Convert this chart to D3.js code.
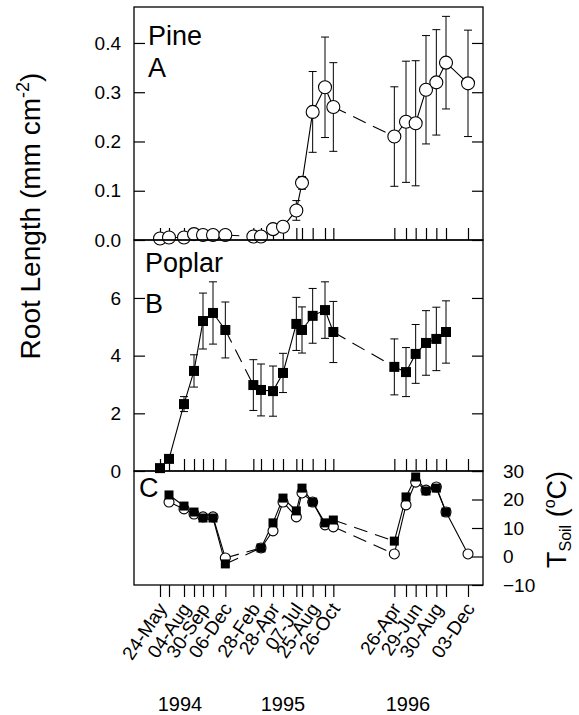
<!DOCTYPE html>
<html lang="en">
<head>
  <meta charset="UTF-8">
  <title>Root length and soil temperature</title>
  <script src="https://d3js.org/d3.v7.min.js"></script>
  <style>
    body { margin: 0; background: #fff; }
    svg { font-family: "Liberation Sans", Arial, sans-serif; }
  </style>
</head>
<body>
<svg id="chart" width="579" height="715"></svg>
<script>
// sampling dates (every tick on the x axis)
const sampleDates = [
  "1994-05-24", "1994-06-20", "1994-08-04", "1994-09-03", "1994-09-30", "1994-10-30", "1994-12-06",
  "1995-02-28", "1995-03-23", "1995-04-28", "1995-05-28", "1995-07-07", "1995-07-24", "1995-08-25",
  "1995-10-01", "1995-10-26",
  "1996-04-26", "1996-05-31", "1996-06-29", "1996-07-30", "1996-08-30", "1996-09-28", "1996-12-03"
];

// panel A: pine root length (mm cm-2) and standard errors
const pineRoot = [0.003, 0.005, 0.005, 0.012, 0.010, 0.010, 0.010,
  0.007, 0.007, 0.022, 0.027, 0.060, 0.116, 0.260, 0.310, 0.270,
  0.210, 0.240, 0.237, 0.305, 0.320, 0.360, 0.318];
const pineErr = [0.003, 0.003, 0.003, 0.004, 0.004, 0.004, 0.004,
  0.003, 0.003, 0.005, 0.005, 0.020, 0.013, 0.082, 0.102, 0.090,
  0.101, 0.123, 0.127, 0.110, 0.107, 0.094, 0.108];

// panel B: poplar root length
const poplarRoot = [0.10, 0.42, 2.32, 3.47, 5.20, 5.48, 4.89,
  2.98, 2.81, 2.77, 3.40, 5.10, 4.89, 5.38, 5.58, 4.82,
  3.61, 3.43, 4.06, 4.44, 4.58, 4.82, null];
const poplarErr = [0.05, 0.10, 0.26, 0.56, 0.97, 1.08, 0.97,
  0.88, 0.90, 0.87, 0.68, 0.92, 0.80, 0.95, 0.98, 1.06,
  0.97, 0.85, 1.02, 1.12, 1.10, 1.08, null];

// panel C: soil temperature (°C), squares = poplar, circles = pine
const soilSquare = [null, 21.6, 17.7, 15.6, 13.5, 13.5, -2.6,
  null, 3.0, 11.8, 20.5, 16.0, 24.0, 19.1, 11.8, 12.8,
  5.4, 20.9, 27.9, 23.0, 24.0, 15.6, null];
const soilCircle = [null, 19.1, 16.7, 14.9, 13.9, 13.9, -0.5,
  null, 3.0, 9.0, 19.1, 13.9, 22.3, 19.1, 11.1, 10.4,
  0.9, 18.1, 26.1, 23.3, 24.4, 15.6, 0.9];

const dateLabels = [
  ["1994-05-24", "24-May"], ["1994-08-04", "04-Aug"], ["1994-09-30", "30-Sep"], ["1994-12-06", "06-Dec"],
  ["1995-02-28", "28-Feb"], ["1995-04-28", "28-Apr"], ["1995-07-07", "07-Jul"], ["1995-08-25", "25-Aug"],
  ["1995-10-26", "26-Oct"], ["1996-04-26", "26-Apr"], ["1996-06-29", "29-Jun"], ["1996-08-30", "30-Aug"],
  ["1996-12-03", "03-Dec"]
];
const yearLabels = [["1994-07-23", "1994"], ["1995-05-28", "1995"], ["1996-06-06", "1996"]];

const pineTicks = [0, 0.1, 0.2, 0.3, 0.4];
const poplarTicks = [0, 2, 4, 6];
const soilTicks = [-10, 0, 10, 20, 30];

const parse = d3.timeParse("%Y-%m-%d");
const dates = sampleDates.map(parse);

const left = 134, right = 483;
const panels = {
  A: { top: 7, bottom: 240 },
  B: { top: 240, bottom: 471 },
  C: { top: 471, bottom: 585 }
};

const svg = d3.select("#chart");

const x = d3.scaleTime()
  .domain([parse("1994-05-24"), parse("1996-12-03")])
  .range([160, 468]);

const yA = d3.scaleLinear().domain([0, 0.473]).range([panels.A.bottom, panels.A.top]);
const yB = d3.scaleLinear().domain([0, 8.01]).range([panels.B.bottom, panels.B.top]);
const yC = d3.scaleLinear().domain([-10, 30]).range([panels.C.bottom, panels.C.top]);

function rows(values, errs) {
  return dates.map((d, i) => ({
    date: d, year: d.getFullYear(), v: values[i], e: errs ? errs[i] : null
  })).filter(r => r.v != null);
}

// solid inside one season, dashed across the winter gaps
function drawSeries(g, data, y, dash) {
  const line = d3.line().x(d => x(d.date)).y(d => y(d.v));
  const groups = d3.groups(data, d => d.year).map(g => g[1]);
  groups.forEach((grp, i) => {
    g.append("path").datum(grp)
      .attr("d", line).attr("fill", "none")
      .attr("stroke", "#000").attr("stroke-width", 1.1);
    if (i < groups.length - 1) {
      g.append("path").datum([grp[grp.length - 1], groups[i + 1][0]])
        .attr("d", line).attr("fill", "none")
        .attr("stroke", "#000").attr("stroke-width", 1.1)
        .attr("stroke-dasharray", dash);
    }
  });
}

function drawErrors(g, data, y) {
  const eb = g.append("g").attr("stroke", "#000").attr("stroke-width", 1);
  data.forEach(d => {
    const cx = x(d.date), y0 = y(d.v - d.e), y1 = y(d.v + d.e);
    eb.append("line").attr("x1", cx).attr("x2", cx).attr("y1", y0).attr("y2", y1);
    eb.append("line").attr("x1", cx - 4).attr("x2", cx + 4).attr("y1", y0).attr("y2", y0);
    eb.append("line").attr("x1", cx - 4).attr("x2", cx + 4).attr("y1", y1).attr("y2", y1);
  });
}

function drawCircles(g, data, y, r) {
  g.selectAll(null).data(data).enter().append("circle")
    .attr("cx", d => x(d.date)).attr("cy", d => y(d.v)).attr("r", r)
    .attr("fill", "#fff").attr("stroke", "#000").attr("stroke-width", 1.1);
}

function drawSquares(g, data, y, s) {
  g.selectAll(null).data(data).enter().append("rect")
    .attr("x", d => x(d.date) - s / 2).attr("y", d => y(d.v) - s / 2)
    .attr("width", s).attr("height", s).attr("fill", "#000");
}

function styleAxis(sel) {
  sel.select(".domain").remove();
  sel.selectAll("line").attr("stroke", "#000").attr("stroke-width", 1.2);
  sel.selectAll("text").attr("fill", "#000").attr("font-family", null);
}

// y axes (ticks inside on both sides)
function yAxes(y, ticks, fmt) {
  svg.append("g").attr("transform", `translate(${left},0)`)
    .call(d3.axisLeft(y).tickValues(ticks).tickSize(-11).tickPadding(13).tickFormat(fmt))
    .call(styleAxis)
    .attr("font-size", 19);
  svg.append("g").attr("transform", `translate(${right},0)`)
    .call(d3.axisRight(y).tickValues(ticks).tickSize(-11).tickFormat(""))
    .call(styleAxis);
}
yAxes(yA, pineTicks, d3.format(".1f"));
yAxes(yB, poplarTicks, d3.format("d"));

// soil temperature axis on the right
svg.append("g").attr("transform", `translate(${right},0)`)
  .call(d3.axisRight(yC).tickValues(soilTicks).tickSize(-11).tickPadding(20).tickFormat(d3.format("d")))
  .call(styleAxis)
  .attr("font-size", 19);

// date ticks at the bottom of every panel
["A", "B"].forEach(k => {
  svg.append("g").attr("transform", `translate(0,${panels[k].bottom})`)
    .call(d3.axisBottom(x).tickValues(dates).tickSize(-12).tickFormat(""))
    .call(styleAxis);
});
svg.append("g").attr("transform", `translate(0,${panels.C.bottom})`)
  .call(d3.axisBottom(x).tickValues(dates).tickSize(12).tickFormat(""))
  .call(styleAxis);

// rotated date labels
svg.append("g").selectAll("text").data(dateLabels).enter().append("text")
  .attr("transform", d => `translate(${x(parse(d[0])) + 2},605) rotate(-56)`)
  .attr("text-anchor", "end").attr("dy", "0.35em")
  .attr("font-size", 19)
  .text(d => d[1]);

svg.append("g").selectAll("text").data(yearLabels).enter().append("text")
  .attr("x", d => x(parse(d[0]))).attr("y", 711)
  .attr("text-anchor", "middle").attr("font-size", 20)
  .text(d => d[1]);

// panel A: pine
const gA = svg.append("g");
const pineRows = rows(pineRoot, pineErr);
drawErrors(gA, pineRows, yA);
drawSeries(gA, pineRows, yA, "14,8");
drawCircles(gA, pineRows, yA, 6.5);

// panel B: poplar
const gB = svg.append("g");
const poplarRows = rows(poplarRoot, poplarErr);
drawErrors(gB, poplarRows, yB);
drawSeries(gB, poplarRows, yB, "14,8");
drawSquares(gB, poplarRows, yB, 10);

// panel C: soil temperature
const gC = svg.append("g");
const circleRows = rows(soilCircle);
const squareRows = rows(soilSquare);
drawSeries(gC, circleRows, yC, "14,8");
drawSeries(gC, squareRows, yC, "14,8");
drawCircles(gC, circleRows, yC, 5);
drawSquares(gC, squareRows, yC, 9);

// frames
Object.values(panels).forEach(p => {
  svg.append("rect")
    .attr("x", left).attr("y", p.top)
    .attr("width", right - left).attr("height", p.bottom - p.top)
    .attr("fill", "none").attr("stroke", "#000").attr("stroke-width", 1.3);
});

// panel labels
const panelText = [["Pine", 148, 45], ["A", 148, 77], ["Poplar", 145, 272], ["B", 145, 313], ["C", 139, 497]];
svg.append("g").selectAll("text").data(panelText).enter().append("text")
  .attr("x", d => d[1]).attr("y", d => d[2])
  .attr("font-size", 27)
  .text(d => d[0]);

// axis titles
const yTitle = svg.append("text")
  .attr("transform", "translate(40,216) rotate(-90)")
  .attr("text-anchor", "middle").attr("font-size", 28);
yTitle.append("tspan").text("Root Length (mm cm");
yTitle.append("tspan").attr("font-size", 18).attr("dy", -11).text("-2");
yTitle.append("tspan").attr("dy", 11).text(")");

const tTitle = svg.append("text")
  .attr("transform", "translate(566,568) rotate(-90)")
  .attr("text-anchor", "start").attr("font-size", 27);
tTitle.append("tspan").text("T");
tTitle.append("tspan").attr("font-size", 16).attr("dy", 5).text("Soil");
tTitle.append("tspan").attr("dy", -5).text(" (");
tTitle.append("tspan").attr("font-size", 16).attr("dy", -11).text("o");
tTitle.append("tspan").attr("dy", 11).text("C)");
</script>
</body>
</html>
